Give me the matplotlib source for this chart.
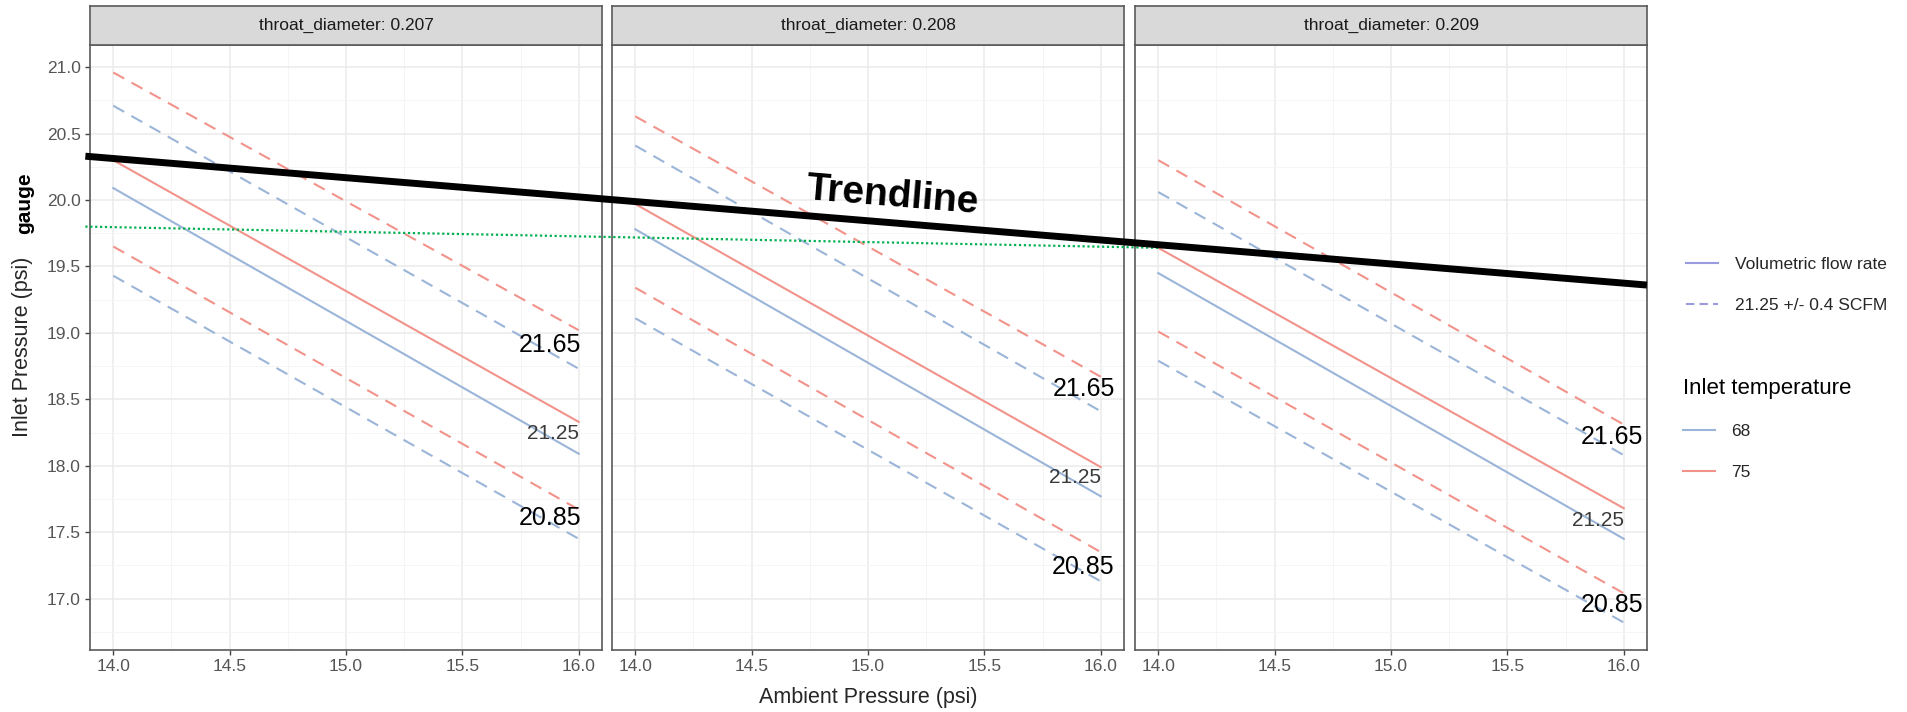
import matplotlib.pyplot as plt
from matplotlib.lines import Line2D
from matplotlib.ticker import MultipleLocator

plt.rcParams['font.family'] = ['Liberation Sans', 'DejaVu Sans']

# Ambient pressure (psi) at the two ends of every line
ambient = [14.0, 16.0]
throat_diameters = ["0.207", "0.208", "0.209"]
flow_rates = ["21.65", "21.25", "20.85"]

# Inlet gauge pressure [panel][flow rate], read at 14.0 and 16.0 psi ambient
start_68 = [[20.71, 20.09, 19.43], [20.41, 19.78, 19.11], [20.06, 19.45, 18.79]]
end_68 = [[18.73, 18.09, 17.45], [18.41, 17.77, 17.13], [18.08, 17.45, 16.82]]
start_75 = [[20.96, 20.30, 19.65], [20.63, 19.97, 19.34], [20.30, 19.64, 19.01]]
end_75 = [[19.02, 18.33, 17.67], [18.67, 17.99, 17.35], [18.31, 17.68, 17.04]]

# hand-added flow rate labels (x of right edge, y per panel)
label_x_outer = [16.01, 16.06, 16.085]
label_y_2165 = [18.91, 18.58, 18.22]
label_y_2125 = [18.24, 17.91, 17.59]
label_y_2085 = [17.61, 17.24, 16.95]

# trendline and green guide, in panel 1 data units
trend_x = [13.88, 20.59]
trend_y = [20.33, 19.36]
guide_x = [13.88, 18.50]
guide_y = [19.80, 19.64]

x_ticks = [14.0, 14.5, 15.0, 15.5, 16.0]
y_ticks = [17.0, 17.5, 18.0, 18.5, 19.0, 19.5, 20.0, 20.5, 21.0]

c68 = '#9bb5d8'
c75 = '#f1938a'
dash = (0, (6, 4))

W, H = 1907, 712
fig = plt.figure(figsize=(W / 100, H / 100), dpi=100)

lefts = [90, 612, 1135]
pw = 512
top, bottom, strip_top = 45, 650, 6

all_y = sum(start_68 + end_68 + start_75 + end_75, [])
lo, hi = min(all_y), max(all_y)
pad = 0.05 * (hi - lo)

axes = []
for i, d in enumerate(throat_diameters):
    ax = fig.add_axes([lefts[i] / W, 1 - bottom / H, pw / W, (bottom - top) / H])
    for k, fr in enumerate(flow_rates):
        ls = '-' if fr == "21.25" else dash
        ax.plot(ambient, [start_68[i][k], end_68[i][k]], color=c68, lw=1.5, ls=ls)
        ax.plot(ambient, [start_75[i][k], end_75[i][k]], color=c75, lw=1.5, ls=ls)

    ax.set_xlim(13.9, 16.1)
    ax.set_ylim(lo - pad, hi + pad)
    ax.set_xticks(x_ticks)
    ax.set_xticklabels([f"{v:.1f}" for v in x_ticks])
    ax.set_yticks(y_ticks)
    ax.set_yticklabels([f"{v:.1f}" for v in y_ticks])
    ax.xaxis.set_minor_locator(MultipleLocator(0.25))
    ax.yaxis.set_minor_locator(MultipleLocator(0.25))
    ax.grid(which='major', color='#ebebeb', lw=1.1)
    ax.grid(which='minor', color='#f5f5f5', lw=0.7)
    ax.set_axisbelow(True)
    ax.tick_params(which='minor', length=0)
    ax.tick_params(which='major', length=3.5, width=1, color='#444444',
                   labelsize=12.5, labelcolor='#555555', pad=3)
    if i > 0:
        ax.tick_params(axis='y', left=False, labelleft=False)
    for s in ax.spines.values():
        s.set_color('#5a5a5a')
        s.set_linewidth(1.2)

    ax.text(label_x_outer[i], label_y_2165[i], "21.65", ha='right', va='center',
            fontsize=18, color='black')
    ax.text(16.0, label_y_2125[i], "21.25", ha='right', va='center',
            fontsize=15, color='#3a3a3a')
    ax.text(label_x_outer[i], label_y_2085[i], "20.85", ha='right', va='center',
            fontsize=18, color='black')

    strip = fig.add_axes([lefts[i] / W, 1 - top / H, pw / W, (top - strip_top) / H])
    strip.set_facecolor('#d9d9d9')
    strip.set_xticks([])
    strip.set_yticks([])
    for s in strip.spines.values():
        s.set_color('#5a5a5a')
        s.set_linewidth(1.2)
    strip.text(0.5, 0.5, f"throat_diameter: {d}", ha='center', va='center',
               fontsize=12.5, color='#1a1a1a', transform=strip.transAxes)
    axes.append(ax)

# Trendline overlay across all panels
fig.add_artist(Line2D(guide_x, guide_y, transform=axes[0].transData,
                      color='#00b050', lw=1.6, ls=(0, (1, 1.2))))
fig.add_artist(Line2D(trend_x, trend_y, transform=axes[0].transData,
                      color='black', lw=5, solid_capstyle='butt'))
fig.text(17.35, 20.03, "Trendline", transform=axes[0].transData, rotation=-4.7,
         rotation_mode='anchor', ha='center', va='center', fontsize=28,
         fontweight='bold', color='black')

# Axis titles
fig.text(868 / W, 1 - 698 / H, "Ambient Pressure (psi)", ha='center', va='center',
         fontsize=15.5, color='#262626')
fig.text(23 / W, 1 - 347 / H, "Inlet Pressure (psi)", rotation=90, ha='center',
         va='center', fontsize=15.5, color='#262626')
fig.text(25 / W, 1 - 203 / H, "gauge", rotation=90, ha='center', va='center',
         fontsize=15, fontweight='bold', color='black')

# Legends
flow_handles = [Line2D([], [], color='#9a9ae0', lw=1.5),
                Line2D([], [], color='#9a9ae0', lw=1.5, ls=(0, (4, 2.5)))]
fig.legend(flow_handles, ["Volumetric flow rate", "21.25 +/- 0.4 SCFM"],
           loc='upper left', bbox_to_anchor=(1686 / W, 1 - 257 / H), frameon=False,
           fontsize=12.5, handlelength=1.85, handletextpad=0.95, labelspacing=1.5,
           borderpad=0, borderaxespad=0, labelcolor='#262626')
temp_handles = [Line2D([], [], color=c68, lw=1.5), Line2D([], [], color=c75, lw=1.5)]
fig.legend(temp_handles, ["68", "75"], title="Inlet temperature", title_fontsize=16,
           alignment='left', loc='upper left', bbox_to_anchor=(1683 / W, 1 - 378 / H),
           frameon=False, fontsize=12.5, handlelength=1.85, handletextpad=0.95,
           labelspacing=1.45, borderpad=0, borderaxespad=0, labelcolor='#262626')

fig.savefig("out.png", dpi=100)
